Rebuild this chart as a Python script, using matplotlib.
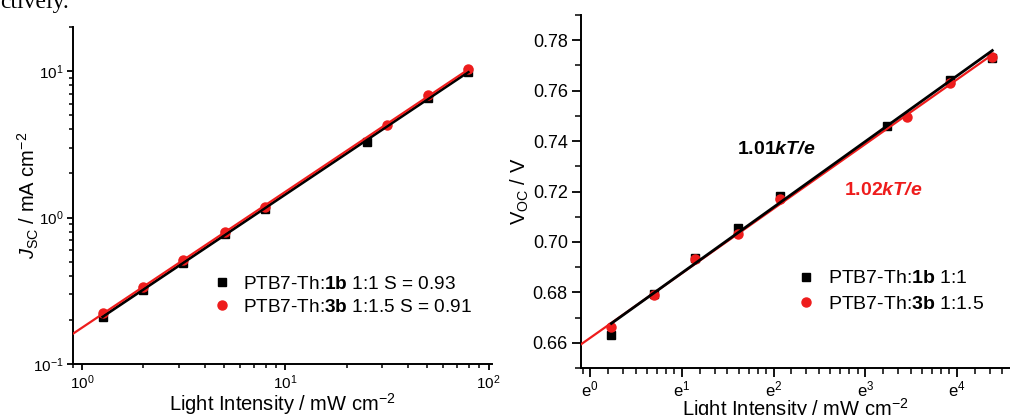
import matplotlib
matplotlib.use("Agg")
import matplotlib.pyplot as plt
import numpy as np
from matplotlib.ticker import FixedLocator, FuncFormatter, LogLocator, NullFormatter

plt.rcParams["font.family"] = ["Liberation Sans", "DejaVu Sans"]
plt.rcParams["mathtext.fontset"] = "custom"
plt.rcParams["mathtext.rm"] = "Liberation Sans"
plt.rcParams["mathtext.it"] = "Liberation Sans:italic"
plt.rcParams["mathtext.bf"] = "Liberation Sans:bold"
plt.rcParams["mathtext.bfit"] = "Liberation Sans:italic:bold"
plt.rcParams["axes.unicode_minus"] = False

# Jsc vs light intensity (log-log)
jsc_int_1b = [1.26, 2.0, 3.13, 5.02, 7.9, 25.2, 50.5, 79.4]
jsc_1b = [0.211, 0.321, 0.49, 0.777, 1.147, 3.28, 6.6, 9.9]
jsc_int_3b = [1.26, 2.0, 3.13, 5.02, 7.9, 31.7, 50.5, 79.4]
jsc_3b = [0.222, 0.335, 0.515, 0.80, 1.18, 4.27, 6.88, 10.3]

# Voc vs light intensity (ln scale)
voc_int_1b = [1.26, 2.0, 3.14, 5.0, 7.9, 25.4, 50.7, 80.4]
voc_1b = [0.6632, 0.6795, 0.6937, 0.7054, 0.7183, 0.7461, 0.7644, 0.7730]
voc_int_3b = [1.26, 2.0, 3.14, 5.0, 7.9, 31.8, 50.7, 80.4]
voc_3b = [0.6662, 0.6788, 0.6932, 0.7030, 0.7170, 0.7495, 0.7631, 0.7733]

label_1b_left = "PTB7-Th:$\\mathbf{1b}$ 1:1 S = 0.93"
label_3b_left = "PTB7-Th:$\\mathbf{3b}$ 1:1.5 S = 0.91"
label_1b_right = "PTB7-Th:$\\mathbf{1b}$ 1:1"
label_3b_right = "PTB7-Th:$\\mathbf{3b}$ 1:1.5"

RED = "#ee1c1c"

fig = plt.figure(figsize=(10.1, 4.15), dpi=100)
fig.text(0.0, 1 - 8 / 415, "ctively.", family="Liberation Serif", fontsize=17, va="baseline", ha="left")


def style_axes(ax, labelsize, major_len, minor_len, pad):
    for side in ["top", "right"]:
        ax.spines[side].set_visible(False)
    for side in ["left", "bottom"]:
        ax.spines[side].set_linewidth(1.4)
    ax.tick_params(which="major", direction="out", length=major_len, width=1.3,
                   labelsize=labelsize, pad=pad)
    ax.tick_params(which="minor", direction="out", length=minor_len, width=1.1)


# ---- left panel ----
ax1 = fig.add_axes([73 / 1010, 1 - 364 / 415, (492 - 73) / 1010, (364 - 27) / 415])
ax1.set_xscale("log")
ax1.set_yscale("log")
xlim1 = (0.9, 104)
ax1.set_xlim(*xlim1)
ax1.set_ylim(0.1, 20)

ax1.plot(jsc_int_1b, jsc_1b, "s", color="black", ms=6, label=label_1b_left, zorder=3)
ax1.plot(jsc_int_3b, jsc_3b, "o", color=RED, ms=6.5, label=label_3b_left, zorder=3)

p1 = np.polyfit(np.log10(jsc_int_1b), np.log10(jsc_1b), 1)
xs = np.array([min(jsc_int_1b), max(jsc_int_1b)])
ax1.plot(xs, 10 ** np.polyval(p1, np.log10(xs)), color="black", lw=2, zorder=4)
p3 = np.polyfit(np.log10(jsc_int_3b), np.log10(jsc_3b), 1)
xs = np.array([xlim1[0], max(jsc_int_3b)])
ax1.plot(xs, 10 ** np.polyval(p3, np.log10(xs)), color=RED, lw=1.6, zorder=5)

ax1.xaxis.set_minor_locator(LogLocator(base=10, subs=np.arange(2, 10)))
ax1.yaxis.set_minor_locator(LogLocator(base=10, subs=np.arange(2, 10)))
ax1.xaxis.set_minor_formatter(NullFormatter())
ax1.yaxis.set_minor_formatter(NullFormatter())
style_axes(ax1, 11, 4.5, 3, 2.5)
ax1.set_xlabel("Light Intensity / mW cm$^{-2}$", fontsize=14.5, labelpad=-1)
ax1.set_ylabel("$J_{\\mathrm{SC}}$ / mA cm$^{-2}$", fontsize=14.5, labelpad=-6)
ax1.legend(loc="upper left", bbox_to_anchor=(0.31, 0.285), frameon=False, fontsize=13.7,
           handletextpad=0.5, labelspacing=0.3, borderaxespad=0, handlelength=1.2)

# ---- right panel ----
ax2 = fig.add_axes([581 / 1010, 1 - 368 / 415, (1010 - 581) / 1010, (368 - 15) / 415])
ax2.set_xscale("log", base=np.e)
xlim2 = (np.e ** -0.1, np.e ** 4.58)
ax2.set_xlim(*xlim2)
ax2.set_ylim(0.65, 0.79)

ax2.plot(voc_int_1b, voc_1b, "s", color="black", ms=6, label=label_1b_right, zorder=3)
ax2.plot(voc_int_3b, voc_3b, "o", color=RED, ms=6.5, label=label_3b_right, zorder=3)

q3 = np.polyfit(np.log(voc_int_3b), voc_3b, 1)
xs = np.array([xlim2[0], max(voc_int_3b)])
ax2.plot(xs, np.polyval(q3, np.log(xs)), color=RED, lw=1.6, zorder=4)
q1 = np.polyfit(np.log(voc_int_1b), voc_1b, 1)
xs = np.array([min(voc_int_1b), max(voc_int_1b)])
ax2.plot(xs, np.polyval(q1, np.log(xs)), color="black", lw=2, zorder=5)

ax2.xaxis.set_major_locator(FixedLocator([np.e ** n for n in range(5)]))
ax2.xaxis.set_major_formatter(FuncFormatter(lambda v, pos: "e$^{%d}$" % round(np.log(v))))
minor = []
for n in range(-1, 5):
    lo, hi = np.e ** n, np.e ** (n + 1)
    minor += [lo + k * (hi - lo) / 8 for k in range(1, 8)]
ax2.xaxis.set_minor_locator(FixedLocator(minor))
ax2.xaxis.set_minor_formatter(NullFormatter())
ax2.yaxis.set_major_locator(FixedLocator([0.66, 0.68, 0.70, 0.72, 0.74, 0.76, 0.78]))
ax2.yaxis.set_minor_locator(FixedLocator([0.65, 0.67, 0.69, 0.71, 0.73, 0.75, 0.77, 0.79]))
ax2.yaxis.set_major_formatter(FuncFormatter(lambda v, pos: "%.2f" % v))
style_axes(ax2, 13, 6.5, 4, 3)
ax2.tick_params(axis="x", which="major", labelsize=12, pad=1.5)
ax2.set_xlabel("Light Intensity / mW cm$^{-2}$", fontsize=14.5, labelpad=-2)
ax2.set_ylabel("V$_{\\mathrm{OC}}$ / V", fontsize=14.5, labelpad=1)
ax2.legend(loc="upper left", bbox_to_anchor=(0.48, 0.30), frameon=False, fontsize=14,
           handletextpad=0.5, labelspacing=0.4, borderaxespad=0, handlelength=1.2)

ax2.text(0.364, 0.618, "$\\mathbf{1.01}\\mathbfit{kT/e}$", fontsize=14, color="black",
         ha="left", va="center", transform=ax2.transAxes)
ax2.text(0.613, 0.504, "$\\mathbf{1.02}\\mathbfit{kT/e}$", fontsize=14, color=RED,
         ha="left", va="center", transform=ax2.transAxes)

fig.savefig("out.png", dpi=100)
